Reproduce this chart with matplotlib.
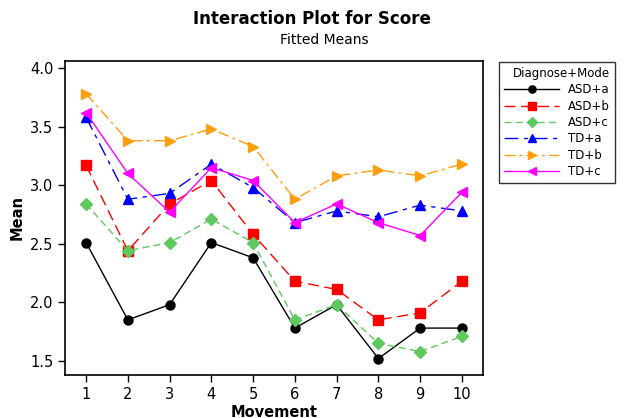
import numpy as np
import matplotlib

matplotlib.use('Agg')
import matplotlib.pyplot as plt

plt.rcParams['font.family'] = 'DejaVu Sans'
plt.rcParams['font.size'] = 10
plt.rcParams['axes.linewidth'] = 1.2

movement = [1, 2, 3, 4, 5, 6, 7, 8, 9, 10]
asd_a = [2.51, 1.85, 1.98, 2.51, 2.38, 1.78, 1.98, 1.52, 1.78, 1.78]
asd_b = [3.17, 2.44, 2.84, 3.04, 2.58, 2.18, 2.11, 1.85, 1.91, 2.18]
asd_c = [2.84, 2.44, 2.51, 2.71, 2.51, 1.85, 1.98, 1.65, 1.58, 1.71]
td_a = [3.58, 2.88, 2.93, 3.18, 2.98, 2.68, 2.78, 2.73, 2.83, 2.78]
td_b = [3.78, 3.38, 3.38, 3.48, 3.33, 2.88, 3.08, 3.13, 3.08, 3.18]
td_c = [3.62, 3.10, 2.77, 3.15, 3.04, 2.68, 2.84, 2.68, 2.57, 2.94]

series = [
    ('ASD+a', asd_a, 'black', 'o', '-', 6.5),
    ('ASD+b', asd_b, '#ff0000', 's', (0, (8, 4)), 6.5),
    ('ASD+c', asd_c, '#5fc85f', 'D', (0, (5, 3)), 6.5),
    ('TD+a', td_a, '#0000ff', '^', (0, (10, 4, 3, 4)), 7.5),
    ('TD+b', td_b, '#ff9f10', '>', (0, (8, 3, 2, 3)), 7.5),
    ('TD+c', td_c, '#ff00ff', '<', '-', 7.5),
]

fig = plt.figure(figsize=(6.27, 4.18), dpi=100)
ax = fig.add_axes([0.104, 0.103, 0.666, 0.751])

for name, vals, col, mk, ls, ms in series:
    ax.plot(movement, vals, color=col, marker=mk, linestyle=ls, linewidth=1.0,
            markersize=ms, label=name)

ax.set_xlim(0.5, 10.5)
ax.set_ylim(1.38, 4.06)
ax.set_xticks(movement)
ax.set_yticks([1.5, 2.0, 2.5, 3.0, 3.5, 4.0])
ax.set_yticklabels(['1.5', '2.0', '2.5', '3.0', '3.5', '4.0'])
ax.tick_params(direction='out', length=5, width=1.0, labelsize=10.5)
ax.set_xlabel('Movement', fontweight='bold', fontsize=10.5, labelpad=2)
ax.set_ylabel('Mean', fontweight='bold', fontsize=10.5)

fig.text(0.498, 0.955, 'Interaction Plot for Score', ha='center', va='center',
         fontweight='bold', fontsize=12)
fig.text(0.517, 0.905, 'Fitted Means', ha='center', va='center', fontsize=10)

leg = fig.legend(loc='upper left', bbox_to_anchor=(0.796, 0.852), borderaxespad=0,
                 title='Diagnose+Mode', fontsize=8.5, title_fontsize=8.5, frameon=True,
                 fancybox=False, edgecolor='black', handlelength=4.6, borderpad=0.45,
                 labelspacing=0.28, markerscale=0.8)
leg.get_frame().set_linewidth(1.0)
leg._legend_box.align = 'right'

fig.savefig('out.png', dpi=100)
